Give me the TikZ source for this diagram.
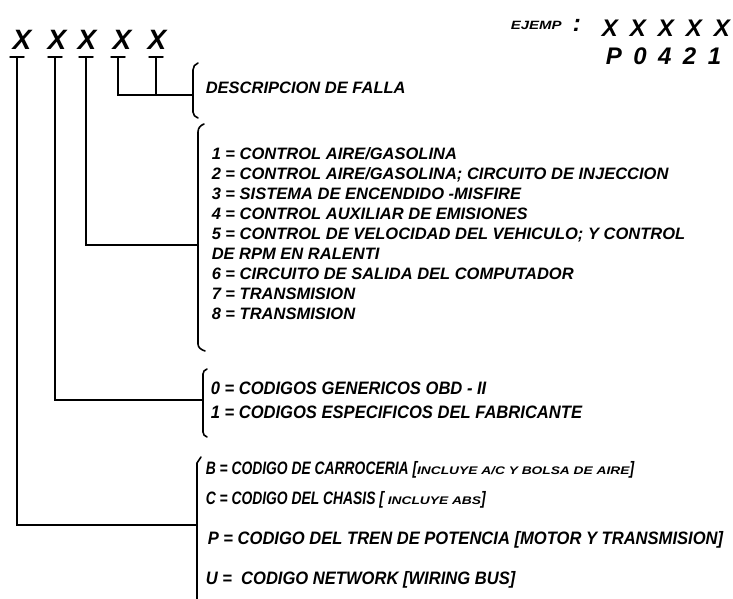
\documentclass[tikz,border=0pt]{standalone}
\usepackage{fontspec}
\setmainfont{Liberation Sans}
\newfontfamily\narrowf[FakeStretch=0.92]{Liberation Sans}
\newfontfamily\tightf[FakeStretch=0.77]{Liberation Sans}
\newfontfamily\widef[FakeStretch=1.25]{Liberation Sans}
\usetikzlibrary{positioning}

\begin{document}
\begin{tikzpicture}[x=1pt,y=-1pt,line width=1.5pt,line cap=round,
 every node/.style={inner sep=0pt,anchor=base west},
 bigx/.style={anchor=base,font=\fontsize{28}{28}\selectfont\bfseries\itshape},
 sample/.style={font=\fontsize{24}{24}\selectfont\bfseries\itshape},
 item/.style={font=\fontsize{16.5}{20}\selectfont\bfseries\itshape},
 nitem/.style={font=\fontsize{18}{20}\narrowf\bfseries\itshape},
 titem/.style={font=\fontsize{18}{20}\tightf\bfseries\itshape},
 brk/.style={line width=1.6pt}]
\newcommand{\smallnote}[1]{{\fontsize{11}{11}\widef\bfseries\itshape #1}}
\useasboundingbox (0,0) rectangle (733,599);

% the five code letters
\node[bigx] (x1) at (22,50) {X};
\node[bigx] (x2) at (57,50) {X};
\node[bigx] (x3) at (87,50) {X};
\node[bigx] (x4) at (122,50) {X};
\node[bigx] (x5) at (157,50) {X};
\coordinate (t1) at (17,57);\coordinate (t2) at (55,57);\coordinate (t3) at (86,57);
\coordinate (t4) at (118,57);\coordinate (t5) at (156,57);
\foreach \i in {1,...,5}{\draw ([xshift=-7pt]t\i) -- ([xshift=7pt]t\i);}

% example in the corner
\node[font=\fontsize{12}{12}\widef\bfseries\itshape] (ej) at (510,30) {EJEMP};
\node[sample] (dots) at (572,32) {:};
\node[sample] (samp) at (601,37) {X\kern12pt X\kern12pt X\kern12pt X\kern12pt X};
\node[sample] (code) at (605,65) {P\kern11.5pt 0\kern11.5pt 4\kern11.5pt 2\kern11.5pt 1};

% brackets
\coordinate (j1) at (193,95);
\coordinate (j2) at (198,245);
\coordinate (j3) at (203,400);
\coordinate (j4) at (197,525);
\draw[brk] (198,63) to[out=200,in=90] (193,70) -- (193,112) to[out=-90,in=160] (198,118);
\draw[brk] (204,124) to[out=200,in=90] (198,132) -- (198,344) to[out=-90,in=160] (205,351);
\draw[brk] (207,369) to[out=200,in=90] (203,374) -- (203,432) to[out=-90,in=160] (207,437);
\draw[brk] (201,457) -- (197,463) -- (197,599);

% connectors
\draw (t4) |- (j1);
\draw (t5) -- (t5 |- j1);
\draw (t3) |- (j2);
\draw (t2) |- (j3);
\draw (t1) |- (j4);

% texts
\node[item] (falla) at (205,94) {DESCRIPCION DE FALLA};
\foreach \t [count=\k] in {1 = CONTROL AIRE/GASOLINA,
  2 = CONTROL AIRE/GASOLINA; CIRCUITO DE INJECCION,
  3 = SISTEMA DE ENCENDIDO -MISFIRE,
  4 = CONTROL AUXILIAR DE EMISIONES,
  5 = CONTROL DE VELOCIDAD DEL VEHICULO; Y CONTROL,
  DE RPM EN RALENTI,
  6 = CIRCUITO DE SALIDA DEL COMPUTADOR,
  7 = TRANSMISION,
  8 = TRANSMISION}
  \node[item] (sis\k) at (211,139+20*\k) {\t};
\node[nitem] (gen) at (210,394) {0 = CODIGOS GENERICOS OBD - II};
\node[nitem] (fab) at (210,418) {1 = CODIGOS ESPECIFICOS DEL FABRICANTE};
\node[titem] (carr) at (205,474) {B = CODIGO DE CARROCERIA [\smallnote{INCLUYE A/C Y BOLSA DE AIRE}]};
\node[titem] (chas) at (205,504) {C = CODIGO DEL CHASIS [ \smallnote{INCLUYE ABS}]};
\node[nitem] (pot) at (207,544) {P = CODIGO DEL TREN DE POTENCIA [MOTOR Y TRANSMISION]};
\node[nitem] (net) at (205,584) {U =\ \ CODIGO NETWORK [WIRING BUS]};
\end{tikzpicture}
\end{document}
